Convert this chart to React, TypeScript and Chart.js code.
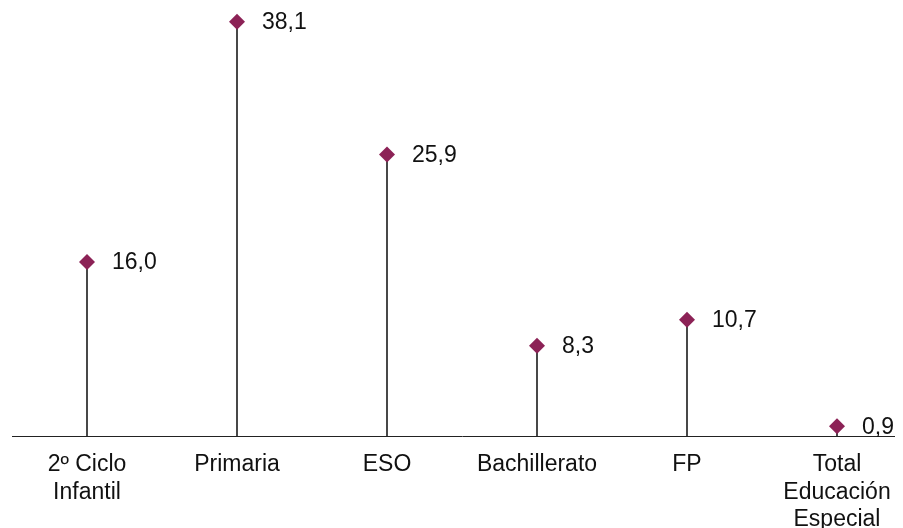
import React, { useEffect, useRef } from "react";
import { Chart, registerables } from "chart.js";

Chart.register(...registerables);

const categories: (string | string[])[] = [
  ["2º Ciclo", "Infantil"],
  "Primaria",
  "ESO",
  "Bachillerato",
  "FP",
  ["Total", "Educación", "Especial"],
];
const values: number[] = [16.0, 38.1, 25.9, 8.3, 10.7, 0.9];
const valueLabels: string[] = ["16,0", "38,1", "25,9", "8,3", "10,7", "0,9"];

const MARKER = "#8C2256";
const FONT = "Arial, 'Liberation Sans', sans-serif";

const valueLabelPlugin = {
  id: "valueLabels",
  afterDatasetsDraw(chart: any) {
    const meta = chart.getDatasetMeta(1);
    const ctx = chart.ctx;
    ctx.save();
    ctx.fillStyle = "#111";
    ctx.font = `23px ${FONT}`;
    ctx.textAlign = "left";
    ctx.textBaseline = "middle";
    meta.data.forEach((pt: any, i: number) => {
      ctx.fillText(valueLabels[i], pt.x + 25, pt.y + 1);
    });
    ctx.restore();
  },
};

export default function App() {
  const ref = useRef<HTMLCanvasElement>(null);
  useEffect(() => {
    if (!ref.current) return;
    const chart = new Chart(ref.current, {
      type: "bar",
      data: {
        labels: categories as any,
        datasets: [
          {
            type: "bar",
            data: values,
            backgroundColor: "#222",
            borderWidth: 0,
            barThickness: 1,
            order: 2,
          },
          {
            type: "line",
            data: values,
            showLine: false,
            pointStyle: "rectRot",
            pointRadius: 8,
            pointHoverRadius: 8,
            pointBackgroundColor: MARKER,
            pointBorderColor: MARKER,
            pointBorderWidth: 0,
            clip: false,
            order: 1,
          } as any,
        ],
      },
      options: {
        responsive: false,
        animation: false,
        layout: { autoPadding: false, padding: { left: 4, right: 6, top: 4, bottom: 0 } } as any,
        plugins: {
          legend: { display: false },
          tooltip: { enabled: false },
        },
        scales: {
          x: {
            offset: true,
            grid: { display: false },
            border: { display: true, color: "#222", width: 1 },
            ticks: {
              color: "#111",
              font: { family: FONT, size: 23 },
              padding: 7,
              maxRotation: 0,
              autoSkip: false,
            },
            afterFit: (scale: any) => {
              scale.height = 92;
            },
          },
          y: {
            display: false,
            min: 0,
            max: 39,
          },
        },
      },
      plugins: [valueLabelPlugin],
    });
    return () => chart.destroy();
  }, []);
  return (
    <div style={{ width: 895, height: 520, overflow: "hidden" }}>
      <canvas ref={ref} width={910} height={520} style={{ display: "block" }} />
    </div>
  );
}
